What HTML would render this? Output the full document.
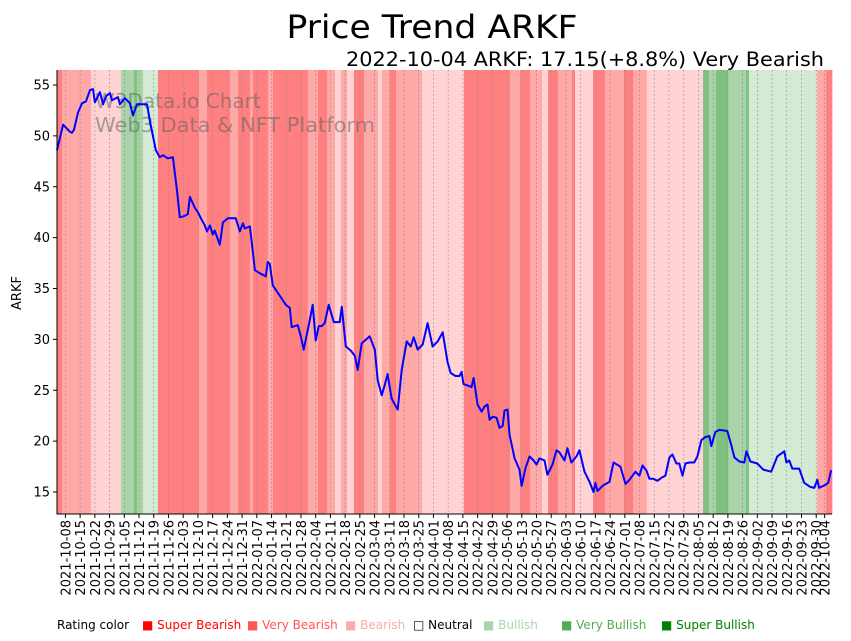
<!DOCTYPE html>
<html><head><meta charset="utf-8"><style>
body{margin:0;background:#fff;}
svg{display:block;font-family:"DejaVu Sans","Liberation Sans",sans-serif;}
</style></head><body>
<svg id="chart" width="851" height="641" viewBox="0 0 851 641" xmlns="http://www.w3.org/2000/svg">
<text x="432" y="38" font-size="32" text-anchor="middle" fill="#000" textLength="291" lengthAdjust="spacingAndGlyphs">Price Trend ARKF</text>
<text x="824" y="66" font-size="19.5" text-anchor="end" fill="#000" textLength="478" lengthAdjust="spacingAndGlyphs">2022-10-04 ARKF: 17.15(+8.8%) Very Bearish</text>
<g id="bands"></g>
<g id="grid"></g>
<text x="95" y="108" font-size="20" fill="rgba(90,90,90,0.5)">W3Data.io Chart</text>
<text x="95" y="132" font-size="20" fill="rgba(90,90,90,0.5)" textLength="280" lengthAdjust="spacingAndGlyphs">Web3 Data &amp; NFT Platform</text>
<path id="priceLine" fill="none" stroke="#0000ff" stroke-width="2" stroke-linejoin="round"/>
<g id="axes"></g>
<text transform="translate(21,293) rotate(-90)" font-size="13" text-anchor="middle">ARKF</text>
<g font-size="12">
<text x="57" y="629" fill="#000">Rating color</text>
<text x="142" y="629" fill="#ff0000">■ Super Bearish</text>
<text x="247" y="629" fill="#ff5555">■ Very Bearish</text>
<text x="345" y="629" fill="#ffaaaa">■ Bearish</text>
<text x="413" y="629" fill="#000">□ Neutral</text>
<text x="483" y="629" fill="#aad4aa">■ Bullish</text>
<text x="561" y="629" fill="#55aa55">■ Very Bullish</text>
<text x="661" y="629" fill="#008000">■ Super Bullish</text>
</g>
</svg>
<script>
// days since 2021-10-04
const priceDays=[0,2.9,6.2,7.1,8.1,10,11.9,13.8,15.7,17.1,18,20.4,21.9,23.3,25.2,26.1,28,29,29.9,32.3,34.7,36.1,38,40.9,42.8,44.2,47,48.9,50.4,52.7,55.1,57,58.4,60.3,62.2,63.2,65.6,67,68.9,70.3,71.3,72.7,74.1,75,77.4,78.9,81.2,83.6,85,86.9,88.4,89.3,91.7,94.1,96.4,99.3,100.2,101.2,102.6,105.9,108.8,110.7,111.6,114.5,115.9,117.3,120.2,121.6,123,124.5,125.9,127.3,129.2,131.6,134.4,135.4,137.3,139.7,141.6,143,144.9,148.7,151.1,152.5,154.4,155.8,157.2,159.1,160.6,162,163.9,166.3,168.2,169.6,171.5,173.9,176.2,178.6,181,183.4,185.7,187.2,189.5,191.4,192.4,193.3,196.2,197.1,198.1,200,201.9,203.3,204.7,205.7,207.1,209,210.4,211.9,212.8,214.2,215.2,217.6,219.9,220.9,222.8,224.7,226.6,228,229.4,231.8,233.2,235.6,237.5,238.9,241.3,242.7,244.6,247,248.4,250.8,253.2,255.1,256,257,259.4,262.7,264.6,267.9,270.3,272.2,275,276.9,278.4,280.3,281.7,283.6,285.5,287.4,289.3,291.2,292.6,294.5,295.9,297.4,298.8,300.7,303,304.5,306.4,308.3,310.2,311.1,313,314.9,318.7,320.6,322.1,324.4,326.8,327.8,329.7,333,335.8,339.6,342.5,345.8,346.8,348.2,349.6,352.9,355.3,358.2,360.1,361.5,362.4,365.3,366.7,368.1];
const prices=[48.6,51.1,50.4,50.3,50.6,52.3,53.2,53.4,54.5,54.6,53.3,54.3,53.1,53.9,54.2,53.5,53.7,53.8,53.1,53.7,53.2,52.0,53.1,53.1,53.1,51.4,48.6,47.9,48.1,47.8,47.9,44.7,42.0,42.1,42.3,44.0,42.9,42.5,41.7,41.2,40.6,41.2,40.3,40.7,39.3,41.5,41.9,41.9,41.9,40.6,41.4,40.9,41.1,36.8,36.5,36.2,37.6,37.4,35.3,34.3,33.4,33.1,31.2,31.4,30.3,29.0,31.9,33.4,29.9,31.3,31.3,31.6,33.4,31.7,31.7,33.2,29.3,28.9,28.4,27.0,29.6,30.3,29.0,26.0,24.5,25.5,26.6,24.2,23.6,23.1,27.0,29.8,29.3,30.2,29.0,29.5,31.6,29.3,29.8,30.7,27.8,26.7,26.4,26.4,26.8,25.6,25.4,25.3,26.2,23.6,22.9,23.4,23.6,22.1,22.4,22.3,21.3,21.5,23.0,23.1,20.6,18.3,17.2,15.6,17.4,18.5,18.1,17.7,18.3,18.1,16.7,17.7,19.1,18.9,18.1,19.3,17.9,18.5,19.1,17.0,16.0,15.0,15.9,15.1,15.6,16.0,17.9,17.5,15.8,16.2,17.0,16.6,17.6,17.1,16.3,16.3,16.1,16.4,16.6,18.4,18.7,17.8,17.8,16.6,17.8,17.9,17.9,18.5,20.1,20.4,20.5,19.5,20.9,21.1,21.0,19.6,18.4,18.0,17.9,19.0,18.0,17.8,17.2,17.0,18.5,19.0,17.9,18.1,17.3,17.3,15.9,15.5,15.4,16.2,15.4,15.7,15.9,17.15];
const bandStarts=[0,2.4,16.2,30.4,36.6,38,40.9,48,67.5,71.3,82.3,86.1,91.8,93.2,100.3,102.7,119.3,124.1,128.4,132.2,135,137.9,141.2,146,152.6,154.5,158.3,161.2,173.6,193.5,215.4,220.2,224.9,230.6,233.5,238.2,244.9,246.3,254.9,260.6,269.6,273.9,280.5,307.2,310,313.4,319.1,327.6,329,361.4,365.7];
const bandEnds=[2.4,16.2,30.4,36.6,38,40.9,48,67.5,71.3,82.3,86.1,91.8,93.2,100.3,102.7,119.3,124.1,128.4,132.2,135,137.9,141.2,146,152.6,154.5,158.3,161.2,173.6,193.5,215.4,220.2,224.9,230.6,233.5,238.2,244.9,246.3,254.9,260.6,269.6,273.9,280.5,307.2,310,313.4,319.1,327.6,329,361.4,365.7,368.5];
const bandRatings=[1,2,3,5,6,5,4,1,2,1,2,1,2,1,2,1,2,1,2,3,2,3,1,2,3,2,1,2,3,1,2,1,2,3,1,2,1,3,1,2,1,2,3,6,5,6,5,6,4,2,1];
const yTicks=[15,20,25,30,35,40,45,50,55];
const tickLabels=[];
(function(){const s=Date.UTC(2021,9,8);for(let t=s;t<=Date.UTC(2022,8,30);t+=7*864e5){tickLabels.push(new Date(t).toISOString().slice(0,10));}tickLabels.push('2022-10-04');})();

const X0=57,X1=832,Y0=70,Y1=514,D0=0,D1=368.5;
const xs=d=>X0+(d-D0)/(D1-D0)*(X1-X0);
const ys=v=>85+(55-v)*10.175;
const dayOf=s=>(Date.UTC(+s.slice(0,4),+s.slice(5,7)-1,+s.slice(8,10))-Date.UTC(2021,9,4))/864e5;
const NS='http://www.w3.org/2000/svg';
const colors={1:'#ff8080',2:'#ffa8a8',3:'#ffd3d3',4:'#d4ead4',5:'#a8d4a8',6:'#7fbf7f'};
const bands=document.getElementById('bands');
bandStarts.forEach((s,i)=>{const r=document.createElementNS(NS,'rect');


const a=xs(s),b=xs(bandEnds[i]);r.setAttribute('x',a);r.setAttribute('width',Math.max(0,b-a)+0.4);r.setAttribute('y',Y0);r.setAttribute('height',Y1-Y0);r.setAttribute('fill',colors[bandRatings[i]]);bands.appendChild(r);});
const grid=document.getElementById('grid'),axes=document.getElementById('axes');
tickLabels.forEach(l=>{const x=xs(dayOf(l));
const g=document.createElementNS(NS,'line');


g.setAttribute('x1',x);g.setAttribute('x2',x);g.setAttribute('y1',Y0);g.setAttribute('y2',Y1);g.setAttribute('stroke','#888');g.setAttribute('stroke-width','0.7');g.setAttribute('stroke-dasharray','1.5,2.5');grid.appendChild(g);
const tk=document.createElementNS(NS,'line');


tk.setAttribute('x1',x);tk.setAttribute('x2',x);tk.setAttribute('y1',Y1);tk.setAttribute('y2',Y1+4);tk.setAttribute('stroke','#000');axes.appendChild(tk);
const t=document.createElementNS(NS,'text');


t.setAttribute('transform','translate('+(x+5)+','+(Y1+6)+') rotate(-90)');t.setAttribute('text-anchor','end');t.setAttribute('font-size','13');t.textContent=l;axes.appendChild(t);});
yTicks.forEach(v=>{const y=ys(v);
const tk=document.createElementNS(NS,'line');


tk.setAttribute('x1',X0-4);tk.setAttribute('x2',X0);tk.setAttribute('y1',y);tk.setAttribute('y2',y);tk.setAttribute('stroke','#000');axes.appendChild(tk);
const t=document.createElementNS(NS,'text');


t.setAttribute('x',X0-7);t.setAttribute('y',y+4.5);t.setAttribute('text-anchor','end');t.setAttribute('font-size','13');t.textContent=v;axes.appendChild(t);});
const ax=document.createElementNS(NS,'path');


ax.setAttribute('d','M'+X0+','+Y0+'V'+Y1+'H'+X1);ax.setAttribute('stroke','#000');ax.setAttribute('fill','none');ax.setAttribute('stroke-width','1');axes.appendChild(ax);
document.getElementById('priceLine').setAttribute('d',prices.map((p,i)=>(i?'L':'M')+xs(priceDays[i]).toFixed(1)+','+ys(p).toFixed(1)).join(''));
</script>
</body></html>
